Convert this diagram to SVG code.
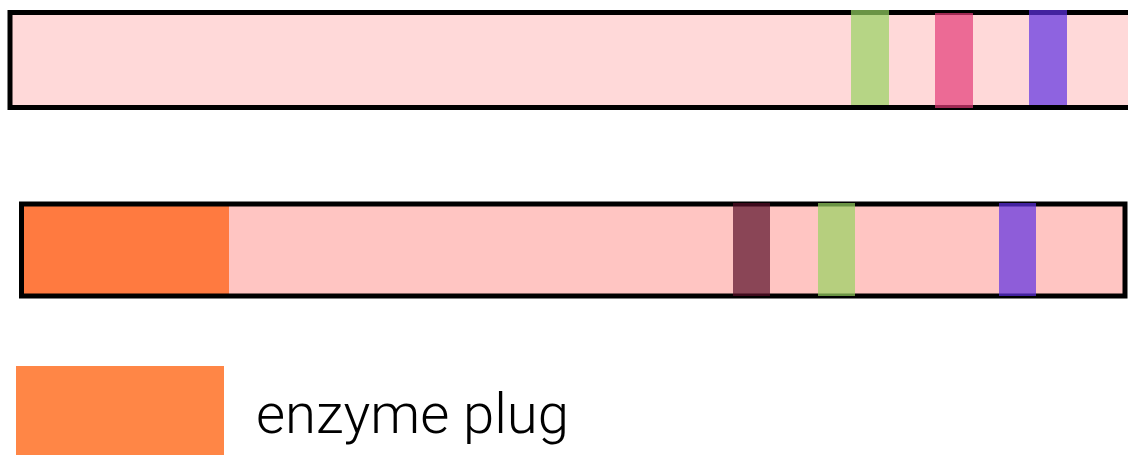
<svg xmlns="http://www.w3.org/2000/svg" width="1128" height="455" viewBox="0 0 1128 455">
  <style>
    .frame { fill: none; stroke: #000; stroke-width: 5; }
    .band { opacity: 0.7; }
    .label { font-family: Roboto, "Liberation Sans", Arial, sans-serif; font-weight: 300; font-size: 56px; fill: #000; }
  </style>
  <rect width="1128" height="455" fill="#fff"/>
  <g id="strand-top">
    <rect x="10" y="12.5" width="1125" height="95" fill="#FFD9D9"/>
    <rect class="frame" x="10" y="12.5" width="1125" height="95"/>
    <rect class="band" x="851" y="10" width="38" height="95" fill="#97D361"/>
    <rect class="band" x="935" y="13" width="38" height="95" fill="#E43A78"/>
    <rect class="band" x="1029" y="10" width="38" height="95" fill="#5E31E3"/>
  </g>
  <g id="strand-bottom">
    <rect x="21.5" y="204" width="1103.5" height="92" fill="#FFC5C2"/>
    <rect x="24" y="206" width="205" height="88" fill="#FF7A40"/>
    <rect class="frame" x="21.5" y="204" width="1103.5" height="92"/>
    <rect class="band" x="733" y="203" width="37" height="93" fill="#580E28"/>
    <rect class="band" x="818" y="203" width="37" height="93" fill="#97D361"/>
    <rect class="band" x="999" y="203" width="37" height="93" fill="#5E31E3"/>
  </g>
  <g id="legend">
    <rect x="16" y="366" width="208" height="89" fill="#FF8646"/>
    <text class="label" x="256" y="433" textLength="313" lengthAdjust="spacingAndGlyphs">enzyme plug</text>
  </g>
</svg>
